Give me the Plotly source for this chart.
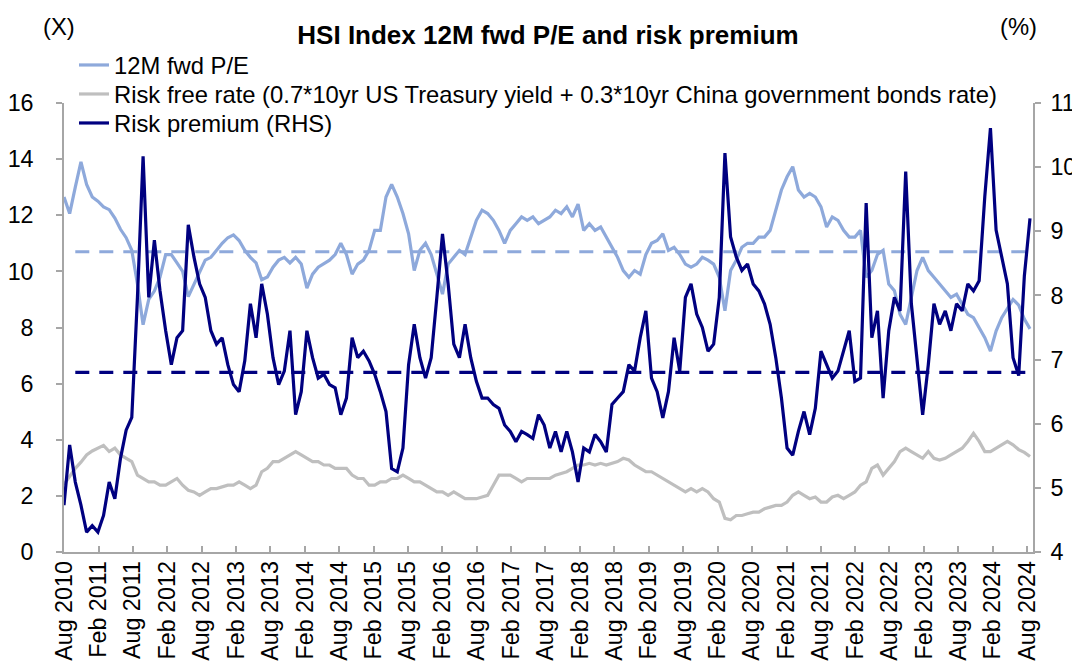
import pandas as pd
import plotly.graph_objects as go

# 12M forward P/E (X), left axis
pe = [12.65, 12.06, 13.0, 13.9, 13.1, 12.65, 12.5, 12.3, 12.2, 11.9,
      11.5, 11.2, 10.75, 9.55, 8.1, 9.0, 9.3, 9.8, 10.6, 10.6,
      10.3, 10.0, 9.1, 9.55, 10.0, 10.4, 10.5, 10.75, 11.0, 11.2,
      11.3, 11.1, 10.75, 10.5, 10.3, 9.7, 9.8, 10.15, 10.4, 10.5,
      10.3, 10.5, 10.26, 9.4, 9.9, 10.15, 10.26, 10.4, 10.6, 11.0,
      10.6, 9.9, 10.26, 10.4, 10.75, 11.46, 11.46, 12.65, 13.1, 12.65,
      12.06, 11.34, 10.03, 10.75, 11.0, 10.6, 9.9, 9.19, 10.26, 10.5,
      10.75, 10.6, 11.22, 11.82, 12.18, 12.06, 11.82, 11.46, 11.0, 11.46,
      11.7, 11.94, 11.82, 11.94, 11.7, 11.82, 11.94, 12.18, 12.06, 12.3,
      11.94, 12.4, 11.46, 11.7, 11.46, 11.58, 11.22, 10.86, 10.5, 10.03,
      9.79, 10.03, 9.9, 10.6, 11.0, 11.1, 11.34, 10.75, 10.86, 10.6,
      10.26, 10.15, 10.26, 10.5, 10.4, 10.26, 9.79, 8.6, 10.03, 10.4,
      10.86, 11.0, 11.0, 11.22, 11.22, 11.46, 12.18, 12.9, 13.37, 13.73,
      12.9, 12.65, 12.78, 12.65, 12.3, 11.58, 11.94, 11.82, 11.46, 11.22,
      11.22, 11.46, 9.79, 10.03, 10.6, 10.75, 9.55, 9.31, 8.47, 8.11,
      9.07, 10.03, 10.5, 10.03, 9.79, 9.55, 9.31, 9.07, 9.19, 8.83,
      8.47, 8.35, 8.0, 7.64, 7.16, 7.87, 8.35, 8.7, 9.0, 8.8,
      8.3, 7.95]

# Risk free rate (%), left axis
rf = [2.4, 2.7, 2.98, 3.2, 3.46, 3.6, 3.7, 3.8, 3.58, 3.7,
      3.46, 3.34, 3.22, 2.74, 2.62, 2.5, 2.5, 2.38, 2.38, 2.5,
      2.62, 2.38, 2.2, 2.14, 2.02, 2.14, 2.26, 2.26, 2.32, 2.38,
      2.38, 2.5, 2.38, 2.26, 2.38, 2.86, 2.98, 3.22, 3.22, 3.34,
      3.46, 3.58, 3.46, 3.34, 3.22, 3.22, 3.1, 3.1, 2.98, 2.98,
      2.98, 2.74, 2.62, 2.62, 2.38, 2.38, 2.5, 2.5, 2.62, 2.62,
      2.74, 2.62, 2.5, 2.5, 2.38, 2.26, 2.14, 2.14, 2.02, 2.14,
      2.02, 1.9, 1.9, 1.9, 1.96, 2.02, 2.38, 2.74, 2.74, 2.74,
      2.62, 2.5, 2.62, 2.62, 2.62, 2.62, 2.62, 2.74, 2.8, 2.86,
      2.98, 3.1, 3.1, 3.16, 3.1, 3.16, 3.1, 3.16, 3.22, 3.34,
      3.28, 3.1, 2.98, 2.86, 2.86, 2.74, 2.62, 2.5, 2.38, 2.26,
      2.14, 2.26, 2.14, 2.26, 2.14, 1.9, 1.78, 1.2, 1.15, 1.3,
      1.3, 1.36, 1.42, 1.42, 1.54, 1.6, 1.66, 1.66, 1.78, 2.02,
      2.14, 2.02, 1.9, 1.96, 1.78, 1.78, 1.96, 2.02, 1.9, 2.02,
      2.14, 2.38, 2.5, 2.98, 3.1, 2.74, 2.98, 3.22, 3.58, 3.7,
      3.58, 3.46, 3.34, 3.58, 3.34, 3.28, 3.34, 3.46, 3.58, 3.7,
      3.94, 4.23, 3.94, 3.58, 3.58, 3.7, 3.82, 3.94, 3.82, 3.65,
      3.55, 3.4]

# Risk premium (%), right axis
rp = [4.73, 5.67, 5.09, 4.73, 4.31, 4.41, 4.31, 4.57, 5.09, 4.83,
      5.46, 5.9, 6.1, 7.97, 10.17, 7.97, 8.86, 8.07, 7.45, 6.92,
      7.34, 7.45, 9.1, 8.6, 8.18, 7.97, 7.45, 7.24, 7.34, 6.92,
      6.61, 6.5, 6.98, 7.87, 7.34, 8.18, 7.71, 7.03, 6.61, 6.82,
      7.45, 6.14, 6.5, 7.45, 7.03, 6.71, 6.77, 6.61, 6.56, 6.14,
      6.4, 7.34, 7.03, 7.13, 6.98, 6.77, 6.5, 6.19, 5.3, 5.25,
      5.62, 6.92, 7.55, 7.03, 6.71, 7.03, 7.97, 8.96, 8.18, 7.24,
      7.03, 7.55, 7.03, 6.66, 6.4, 6.4, 6.3, 6.24, 5.98, 5.88,
      5.72, 5.88, 5.83, 5.77, 6.14, 5.98, 5.62, 5.88, 5.56, 5.88,
      5.56, 5.09, 5.62, 5.56, 5.83, 5.72, 5.56, 6.3, 6.4, 6.5,
      6.92, 6.82, 7.34, 7.76, 6.71, 6.5, 6.09, 6.5, 7.34, 6.82,
      7.97, 8.18, 7.71, 7.5, 7.13, 7.24, 7.97, 10.22, 8.91, 8.6,
      8.39, 8.49, 8.18, 8.07, 7.87, 7.55, 7.03, 6.4, 5.62, 5.51,
      5.88, 6.19, 5.83, 6.24, 7.13, 6.92, 6.71, 6.82, 7.13, 7.45,
      6.66, 6.71, 9.44, 7.34, 7.76, 6.4, 7.45, 7.97, 7.76, 9.93,
      7.87, 7.03, 6.14, 6.92, 7.87, 7.55, 7.76, 7.45, 7.87, 7.76,
      8.18, 8.07, 8.23, 9.54, 10.61, 9.02, 8.6, 8.18, 7.03, 6.75,
      8.3, 9.2]

pe_avg = 10.7
rp_avg = 6.8

tick_labels = ["Aug 2010", "Feb 2011", "Aug 2011", "Feb 2012", "Aug 2012", "Feb 2013",
               "Aug 2013", "Feb 2014", "Aug 2014", "Feb 2015", "Aug 2015", "Feb 2016",
               "Aug 2016", "Feb 2017", "Aug 2017", "Feb 2018", "Aug 2018", "Feb 2019",
               "Aug 2019", "Feb 2020", "Aug 2020", "Feb 2021", "Aug 2021", "Feb 2022",
               "Aug 2022", "Feb 2023", "Aug 2023", "Feb 2024", "Aug 2024"]

dates = pd.date_range("2010-08-01", periods=len(pe), freq="30D")
tick_vals = [pd.to_datetime("01 " + t, format="%d %b %Y") for t in tick_labels]

C_PE = "#8EA9DB"
C_RF = "#BFBFBF"
C_RP = "#000080"
AX = "#A6A6A6"
FONT = "Liberation Sans, Arial, sans-serif"
FS = 23.8
FT = 23.3

fig = go.Figure()
fig.add_trace(go.Scatter(x=[dates[2], dates[-1]], y=[pe_avg, pe_avg], mode="lines",
                         line=dict(color=C_PE, width=3, dash="14px,10px"),
                         showlegend=False, hoverinfo="skip"))
fig.add_trace(go.Scatter(x=dates, y=pe, mode="lines", name="12M fwd P/E",
                         line=dict(color=C_PE, width=3.2), legend="legend"))
fig.add_trace(go.Scatter(x=dates, y=rf, mode="lines",
                         name="Risk free rate (0.7*10yr US Treasury yield + 0.3*10yr China government bonds rate)",
                         line=dict(color=C_RF, width=3.2), legend="legend2"))
fig.add_trace(go.Scatter(x=[dates[2], dates[-1]], y=[rp_avg, rp_avg], mode="lines",
                         line=dict(color=C_RP, width=3.2, dash="14px,10px"),
                         showlegend=False, hoverinfo="skip", yaxis="y2"))
fig.add_trace(go.Scatter(x=dates, y=rp, mode="lines", name="Risk premium (RHS)",
                         line=dict(color=C_RP, width=3.2), yaxis="y2", legend="legend3"))

plot_l, plot_r, plot_t, plot_b = 56, 1025, 95, 544
W, H = 1080, 663
pw, ph = plot_r - plot_l, plot_b - plot_t


def px(x):
    return (x - plot_l) / pw


def py(y):
    return (plot_b - y) / ph


def leg(ypix):
    return dict(x=px(66), y=py(ypix), xanchor="left", yanchor="middle",
                bgcolor="rgba(0,0,0,0)", font=dict(size=FS, family=FONT, color="black"),
                itemwidth=30, borderwidth=0)


axis_common = dict(tickwidth=1.5, tickcolor=AX, showline=True, linecolor=AX, linewidth=1.5,
                   showgrid=False, zeroline=False, automargin=False,
                   tickfont=dict(size=FT, family=FONT, color="black"))

fig.update_layout(
    width=W, height=H,
    margin=dict(l=plot_l, r=W - plot_r, t=plot_t, b=H - plot_b, pad=0),
    paper_bgcolor="white", plot_bgcolor="white",
    font=dict(family=FONT, size=FS, color="black"),
    title=dict(text="<b>HSI Index 12M fwd P/E and risk premium</b>",
               x=0.5, xanchor="center", y=1 - 27 / H, yanchor="middle",
               font=dict(family=FONT, size=26, color="black")),
    showlegend=True,
    legend=leg(57), legend2=leg(86), legend3=leg(115),
    xaxis=dict(type="date", range=["2010-08-01", "2024-09-02"],
               tickvals=tick_vals, ticktext=tick_labels, tickangle=-90,
               ticks="inside", ticklen=6, ticklabelstandoff=-2, **axis_common),
    yaxis=dict(range=[0, 16], tickvals=list(range(0, 17, 2)),
               ticks="outside", ticklen=6, ticklabelstandoff=18, **axis_common),
    yaxis2=dict(range=[4, 11], tickvals=list(range(4, 12)), overlaying="y", side="right",
                ticks="outside", ticklen=6, ticklabelstandoff=5, **axis_common),
    annotations=[
        dict(text="(X)", x=px(51), y=py(19), xref="paper", yref="paper",
             showarrow=False, xanchor="center", yanchor="middle",
             font=dict(size=FS, family=FONT)),
        dict(text="(%)", x=px(1010), y=py(19), xref="paper", yref="paper",
             showarrow=False, xanchor="center", yanchor="middle",
             font=dict(size=FS, family=FONT)),
    ],
)

fig.write_html("out.html")
